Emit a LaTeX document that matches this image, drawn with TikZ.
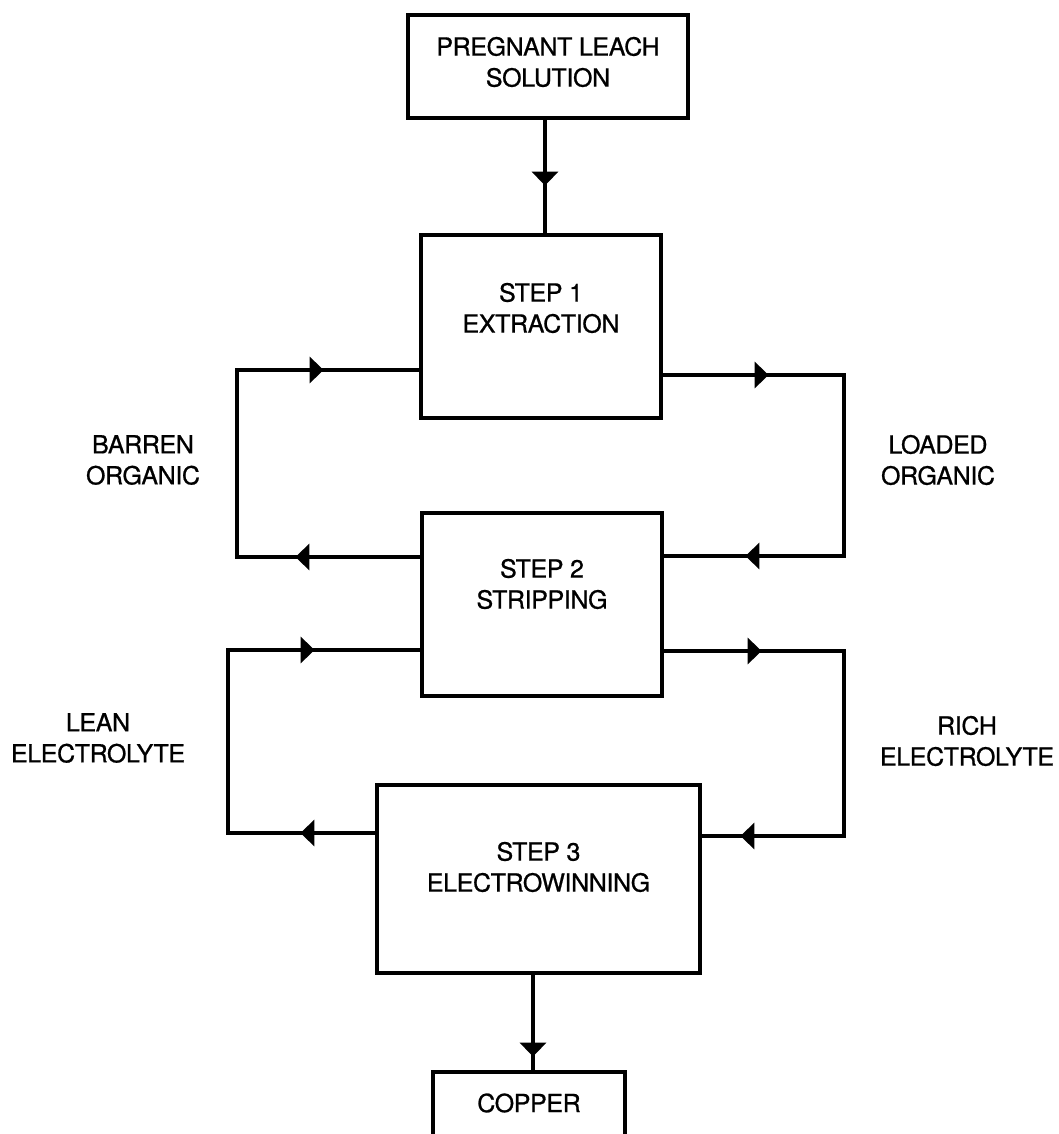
\documentclass[tikz,border=0pt]{standalone}
\usepackage{fontspec}
\setmainfont{TeX Gyre Heros}
\newfontfamily\lblfont{TeX Gyre Heros}[FakeBold=0.8, LetterSpace=-1.5]
\usetikzlibrary{decorations.markings,arrows.meta}
\tikzset{
  box/.style={draw, line width=3.2pt, inner sep=0pt},
  lbl/.style={font=\lblfont\fontsize{25}{31}\selectfont, align=center, inner sep=0pt},
  flow/.style={line width=3.6pt, line join=miter},
  headtip/.tip={Triangle[length=14pt,width=26pt]},
  am/.style={postaction={decorate}, decoration={markings, mark=at position #1 with {\arrow{headtip}}}},
  amm/.style 2 args={postaction={decorate, decoration={markings, mark=at position #1 with {\arrow{headtip}}}},
                     postaction={decorate, decoration={markings, mark=at position #2 with {\arrow{headtip}}}}},
}
\begin{document}
\begin{tikzpicture}[x=1pt,y=-1pt]
\useasboundingbox[fill=white] (0,0) rectangle (1059,1134);
% boxes
\node[box, minimum width=280pt, minimum height=103pt] (top) at (548,66.5) {};
\node[lbl] (topt) at (548,62) {PREGNANT LEACH\\SOLUTION};
\node[box, minimum width=240pt, minimum height=183pt] (s1) at (541,326.5) {};
\node[lbl] (s1t) at (541,308) {STEP 1\\EXTRACTION};
\node[box, minimum width=240pt, minimum height=183pt] (s2) at (542,604.5) {};
\node[lbl] (s2t) at (542,584) {STEP 2\\STRIPPING};
\node[box, minimum width=323pt, minimum height=188pt] (s3) at (538.5,879) {};
\node[lbl] (s3t) at (538.5,867) {STEP 3\\ELECTROWINNING};
\node[lbl] (cu) at (529,1103) {COPPER};
\draw[line width=3.2pt] (433,1145) -- (433,1072) -- (625,1072) -- (625,1145);
\coordinate (cutop) at (533,1072);
% side labels
\node[lbl] (barren) at (143,460) {BARREN\\ORGANIC};
\node[lbl] (loaded) at (938,460) {LOADED\\ORGANIC};
\node[lbl] (lean) at (98,738) {LEAN\\ELECTROLYTE};
\node[lbl] (rich) at (967,741) {RICH\\ELECTROLYTE};
% helper coordinates
\coordinate (ax) at (545,0);
\coordinate (bx) at (533,0);
\coordinate (yA) at (0,370);
\coordinate (yB) at (0,557);
\coordinate (yC) at (0,375);
\coordinate (yD) at (0,556);
\coordinate (yE) at (0,650);
\coordinate (yF) at (0,833);
\coordinate (yG) at (0,651);
\coordinate (yH) at (0,836);
% connectors
\draw[flow, am=66pt] (ax |- top.south) -- (ax |- s1.north);
\draw[flow, amm={125pt}{457pt}] (s2.west |- yB) -- (237,557) -- (237,370) -- (s1.west |- yA);
\draw[flow, amm={106pt}{461pt}] (s1.east |- yC) -- (844,375) -- (844,556) -- (s2.east |- yD);
\draw[flow, amm={75pt}{417pt}] (s3.west |- yF) -- (228,833) -- (228,650) -- (s2.west |- yE);
\draw[flow, amm={98pt}{469pt}] (s2.east |- yG) -- (844,651) -- (844,836) -- (s3.east |- yH);
\draw[flow, am=82pt] (bx |- s3.south) -- (cutop);
\end{tikzpicture}
\end{document}
